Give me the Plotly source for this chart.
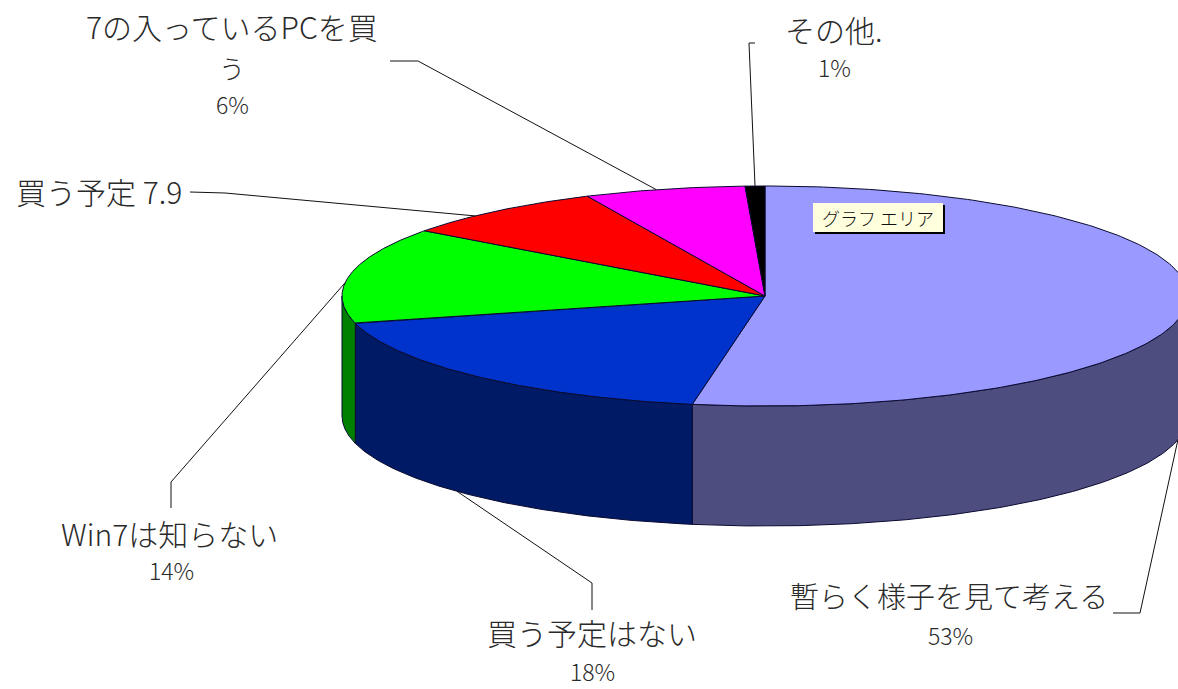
import numpy as np
import plotly.graph_objects as go

categories = ["暫らく様子を見て考える", "買う予定はない", "Win7は知らない", "買う予定", "7の入っているPCを買う", "その他"]
values = [52.75, 18.25, 14.1, 8.0, 6.15, 0.75]
colors_top = ["#9999FF", "#0033CC", "#00FF00", "#FF0000", "#FF00FF", "#000000"]
colors_side = ["#4D4D80", "#001A66", "#008000", "#800000", "#800080", "#000000"]

CX, CY, A, B, DEPTH = 765, 296, 423, 110, 120
FONT = "Noto Sans CJK JP"
EDGE = "#0a0a30"


def ellipse(theta, dy=0):
    return CX + A * np.sin(theta), CY - B * np.cos(theta) + dy


total = sum(values)
bounds = np.concatenate([[0], np.cumsum(values)]) / total * 2 * np.pi


def slice_angle(i, frac):
    return bounds[i] + frac * (bounds[i + 1] - bounds[i])


fig = go.Figure()

# side walls (only the front half, theta between 90 and 270 degrees)
for i in range(len(values)):
    lo, hi = max(bounds[i], np.pi / 2), min(bounds[i + 1], 3 * np.pi / 2)
    if hi <= lo:
        continue
    t = np.linspace(lo, hi, 160)
    x1, y1 = ellipse(t)
    x2, y2 = ellipse(t[::-1], DEPTH)
    fig.add_trace(go.Scatter(
        x=np.r_[x1, x2, x1[0]], y=np.r_[y1, y2, y1[0]], mode="lines", fill="toself",
        fillcolor=colors_side[i], line=dict(color=EDGE, width=1), hoverinfo="skip", showlegend=False))

# top face
for i in range(len(values)):
    t = np.linspace(bounds[i], bounds[i + 1], 240)
    x, y = ellipse(t)
    fig.add_trace(go.Scatter(
        x=np.r_[CX, x, CX], y=np.r_[CY, y, CY], mode="lines", fill="toself",
        fillcolor=colors_top[i], line=dict(color=EDGE, width=1), hoverinfo="skip", showlegend=False))

# leader lines: pie end derives from the slice angle, elbow and label end from layout
leaders = [
    (0, 0.54, DEPTH, [(1140, 613), (1113, 613)]),
    (1, 0.56, DEPTH, [(592, 583), (592, 610)]),
    (2, 0.42, 0, [(171, 482), (171, 508)]),
    (3, 0.36, 0, [(225, 193), (190, 192)]),
    (4, 0.45, 0, [(418, 61), (390, 61)]),
    (5, 0.50, 0, [(749, 43), (755, 43)]),
]
for i, frac, dy, pts in leaders:
    ex, ey = ellipse(slice_angle(i, frac), dy)
    fig.add_trace(go.Scatter(
        x=[ex] + [p[0] for p in pts], y=[ey] + [p[1] for p in pts], mode="lines",
        line=dict(color="#111111", width=1), hoverinfo="skip", showlegend=False))

labels = [
    ("暫らく様子を見て考える", 949, 595, 29),
    ("53%", 950, 635, 23),
    ("買う予定はない", 592, 632, 30),
    ("18%", 592, 671, 23),
    ("Win7は知らない", 169, 533, 30),
    ("14%", 171, 570, 23),
    ("買う予定 7.9", 99, 191, 30),
    ("7の入っているPCを買", 232, 26, 30),
    ("う", 232, 67, 26),
    ("6%", 232, 104, 23),
    ("その他.", 834, 29, 30),
    ("1%", 834, 67, 23),
]
annotations = [
    dict(x=x, y=y, text=t, showarrow=False, xanchor="center", yanchor="middle",
         font=dict(family=FONT, size=s, color="#2a2a2a", weight=300))
    for t, x, y, s in labels
]
annotations.append(dict(
    x=878, y=218, text="グラフ エリア", showarrow=False, xanchor="center", yanchor="middle",
    font=dict(family=FONT, size=18, color="#111111", weight=300)))

shapes = [
    dict(type="rect", x0=815, y0=205, x1=945, y1=234, fillcolor="#000000", line_width=0, layer="above"),
    dict(type="rect", x0=813, y0=203, x1=943, y1=232, fillcolor="#FFFFDD", line_width=0, layer="above"),
]

fig.update_layout(
    width=1178, height=689, autosize=False,
    margin=dict(l=0, r=0, t=0, b=0), paper_bgcolor="white", plot_bgcolor="white",
    showlegend=False,
    xaxis=dict(range=[0, 1178], visible=False, fixedrange=True),
    yaxis=dict(range=[689, 0], visible=False, fixedrange=True),
    annotations=annotations, shapes=shapes,
)
fig.write_html("out.html", config={"displayModeBar": False},
               post_script="document.body.style.margin='0';document.body.style.overflow='hidden';")
